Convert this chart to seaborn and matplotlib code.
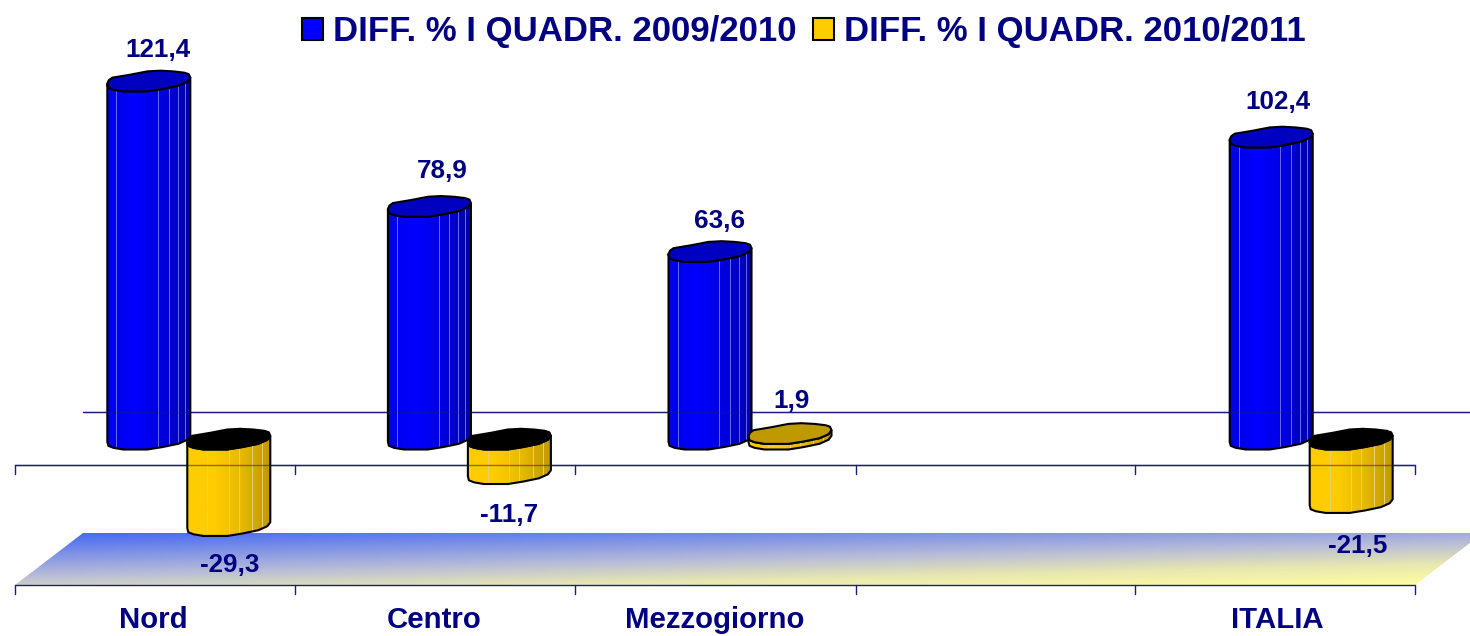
#!/usr/bin/env python3
# Bar chart with cylinder look: seaborn places the bars, the shapes are drawn on top of them
import numpy as np
import pandas as pd
import matplotlib
matplotlib.use('Agg')
import matplotlib.pyplot as plt
import seaborn as sns
from matplotlib.colors import LinearSegmentedColormap
from matplotlib.patches import Patch, Polygon
from matplotlib.transforms import Affine2D

# Data
areas = ['Nord', 'Centro', 'Mezzogiorno', ' ', 'ITALIA']
diff_2009_2010 = [121.4, 78.9, 63.6, np.nan, 102.4]
diff_2010_2011 = [-29.3, -11.7, 1.9, np.nan, -21.5]
series_names = ['DIFF. % I QUADR. 2009/2010', 'DIFF. % I QUADR. 2010/2011']

NAVY = '#000080'
AXIS_COLOR = '#1c1c84'
W, H = 1470, 636

sns.set_theme(style='white')
plt.rcParams['font.family'] = ['Liberation Sans', 'DejaVu Sans']

df = pd.DataFrame({
    'area': areas * 2,
    'series': [series_names[0]] * 5 + [series_names[1]] * 5,
    'value': diff_2009_2010 + diff_2010_2011,
})

fig = plt.figure(figsize=(W / 100, H / 100), dpi=100)
ax = fig.add_axes([0, 0, 1, 1])
sns.barplot(data=df, x='area', y='value', hue='series', order=areas, hue_order=series_names,
            palette=['#0000ff', '#ffcc00'], width=0.57, errorbar=None, legend=False, ax=ax)

# one category is 280.6 px, one unit is 2.95 px, zero sits at y=449.5
ax.set_xlim(-188.8 / 280.6, (W - 188.8) / 280.6)
ax.set_ylim(-(H - 449.5) / 2.95, 449.5 / 2.95)
ax.autoscale(False)
ax.axis('off')

# image pixels, y going down
PX = Affine2D().scale(1, -1).translate(0, H)

# cap shape: px from its left edge and from its lowest point
CAP_FRONT = np.array([(0, -7.7), (1, -3.7), (6, -1.7), (16, 0), (40, 0), (55, -2.4), (71, -5.7),
                      (80, -9.7), (83, -13.7)], dtype=float)
CAP_BACK = np.array([(81.5, -17.2), (77, -18.7), (66, -20), (53, -20.7), (40, -20), (23, -16.7),
                     (5, -13.7), (1.5, -11.2)], dtype=float)


def to_px(x, y):
    return PX.inverted().transform(ax.transData.transform((x, y)))


def cylinder(bar, colors, line_color, cap_color, stripes):
    value = bar.get_height() + bar.get_y()
    xc = bar.get_x() + bar.get_width() / 2
    x_mid, y_zero = to_px(xc, 0)
    y_val = to_px(xc, value)[1]
    left = x_mid - 41.5
    top_low, bottom_low = min(y_zero, y_val), max(y_zero, y_val)

    top_edge = CAP_FRONT + [left, top_low]
    bottom_edge = (CAP_FRONT + [left, bottom_low])[::-1]
    body = Polygon(np.vstack([top_edge, bottom_edge]), closed=True, transform=PX, facecolor='none',
                   edgecolor='black', linewidth=1.5, joinstyle='round', zorder=5)
    ax.add_patch(body)

    cmap = LinearSegmentedColormap.from_list('body', colors)
    ramp = np.linspace(0, 1, 64)[None, :]
    im = ax.imshow(ramp, cmap=cmap, extent=(left, left + 83, bottom_low + 2, top_low - 25),
                   transform=PX, aspect='auto', interpolation='bilinear', zorder=4)
    im.set_clip_path(body)

    for u in stripes:
        ln, = ax.plot([left + 83 * u] * 2, [top_low - 25, bottom_low + 2], transform=PX,
                      color=line_color, lw=0.7, zorder=4.5)
        ln.set_clip_path(body)

    cap = np.vstack([CAP_FRONT, CAP_BACK]) + [left, top_low]
    ax.add_patch(Polygon(cap, closed=True, transform=PX, facecolor=cap_color, edgecolor='black',
                         linewidth=1.5, joinstyle='round', zorder=6))


# Floor with the diagonal gradient
vv, uu = np.mgrid[0:1:60j, 0:1:200j]
floor_cmap = LinearSegmentedColormap.from_list(
    'floor', [(0, '#4468f4'), (0.5, '#b8bcd8'), (0.75, '#e8e8b0'), (1, '#ffffa0')])
floor_im = ax.imshow(0.6 * vv + 0.4 * uu, cmap=floor_cmap, vmin=0, vmax=1, extent=(15, 1483, 585, 533),
                     transform=PX, aspect='auto', interpolation='bilinear', zorder=1)
floor = Polygon([(15, 585), (1415, 585), (1483, 533), (83, 533)], closed=True, transform=PX,
                facecolor='none', edgecolor='none')
ax.add_patch(floor)
floor_im.set_clip_path(floor)

# Axis lines and ticks
tick_px = [15, 295, 575, 856, 1135, 1415]
ax.plot([83, W], [412, 412], transform=PX, color=AXIS_COLOR, lw=1, zorder=2)
for base in [465, 585]:
    ax.plot([15, 1415], [base, base], transform=PX, color=AXIS_COLOR, lw=1, zorder=2)
    for t in tick_px:
        ax.plot([t, t], [base, base + 9], transform=PX, color=AXIS_COLOR, lw=1, zorder=2)

# The lines show faintly through the bars
ax.plot([83, W], [412, 412], transform=PX, color=AXIS_COLOR, lw=1, alpha=0.35, zorder=7)
ax.plot([15, 1415], [465, 465], transform=PX, color=AXIS_COLOR, lw=1, alpha=0.55, zorder=7)

# seaborn gives the bars, one container per series; the empty category has no bar
blue_bars, yellow_bars = ax.containers[0], ax.containers[1]
for bar in list(blue_bars) + list(yellow_bars):
    bar.set_visible(False)

blue_stripes = [0.11, 0.61, 0.74, 0.85, 0.93]
yellow_stripes = [0.24, 0.50, 0.62, 0.78, 0.90]
for bar in blue_bars:
    cylinder(bar, ['#0000e8', '#0000ff', '#0000e0', '#0000a8'], '#6a6aff', '#0000c0', blue_stripes)
for bar in yellow_bars:
    h = bar.get_height() + bar.get_y()
    cap_color = 'black' if h < 0 else '#bf9900'
    cylinder(bar, ['#ffcc00', '#ffcc00', '#e6b800', '#bf9900'], '#e8d070', cap_color, yellow_stripes)

# Value labels, nudged to where the picture has them
blue_nudge = [(9.5, 41), (13, 46), (10, 41), (7, 45)]
yellow_nudge = [(1, -29), (0, -31), (2, 43), (7, -33)]
for bars, nudges in [(blue_bars, blue_nudge), (yellow_bars, yellow_nudge)]:
    for bar, nudge in zip(bars, nudges):
        val = bar.get_height() + bar.get_y()
        x, y = to_px(bar.get_x() + bar.get_width() / 2, val)
        ax.text(x + nudge[0], y - nudge[1], f'{val:.1f}'.replace('.', ','), transform=PX,
                color=NAVY, fontsize=18.7, fontweight='bold', ha='center', va='center', zorder=8)

# Category labels
label_px = [153, 434, 715, None, 1277]
for name, x in zip(areas, label_px):
    if x is not None:
        ax.text(x, 620, name, transform=PX, color=NAVY, fontsize=21.2, fontweight='bold',
                ha='center', va='center', zorder=8)

handles = [Patch(facecolor='#0000ff', edgecolor='black', linewidth=1.5, label=series_names[0]),
           Patch(facecolor='#ffcc00', edgecolor='black', linewidth=1.5, label=series_names[1])]
ax.legend(handles=handles, ncol=2, loc='center', bbox_to_anchor=(804, 32), bbox_transform=PX,
          frameon=False, labelcolor=NAVY, prop={'size': 25, 'weight': 'bold'}, borderpad=0,
          borderaxespad=0, handlelength=0.6, handleheight=0.6, handletextpad=0.3, columnspacing=0.46)

fig.savefig('out.png', dpi=100, facecolor='white')
plt.close(fig)
